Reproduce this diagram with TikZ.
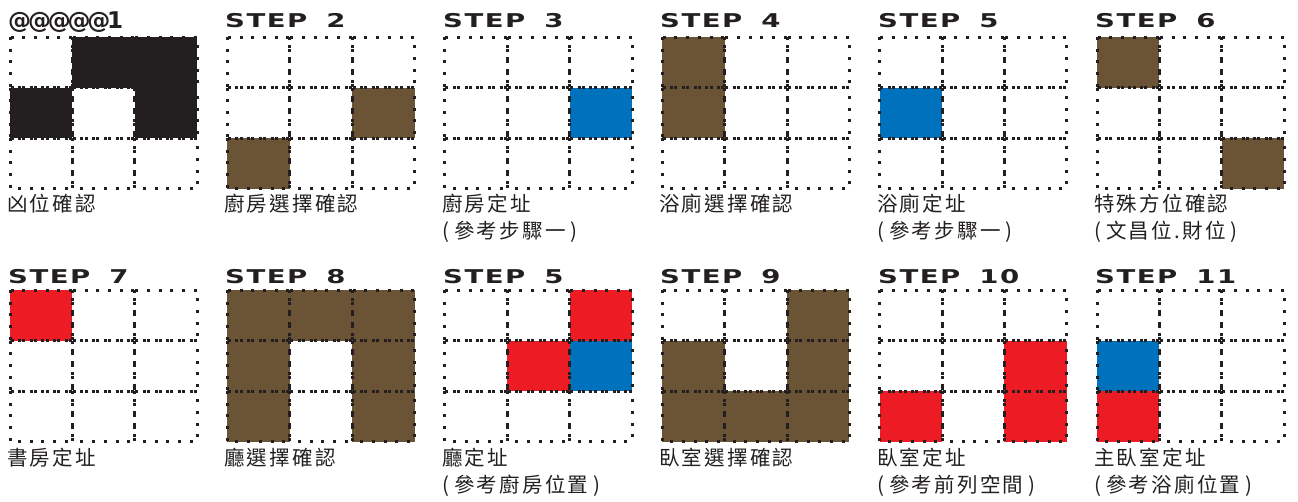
\documentclass[tikz,border=0pt]{standalone}
\usepackage{fontspec}
\usetikzlibrary{positioning}
\newfontfamily\stepfont{DejaVu Sans}[FakeStretch=1.45, LetterSpace=8]
\newfontfamily\atfont{DejaVu Sans}[LetterSpace=-14]
\newfontfamily\cjkfont{Noto Sans CJK TC}[LetterSpace=11]
\definecolor{inkDark}{HTML}{231F20}
\definecolor{roomBrown}{HTML}{6B5436}
\definecolor{roomBlue}{HTML}{0071BC}
\definecolor{roomRed}{HTML}{ED1C24}

% 3x3 plan of dotted cells, #1/#2 = top left corner
\newcommand{\plangrid}[2]{%
  \foreach \cx in {0,1,2}
    \foreach \cy in {0,1,2}
      \draw[cellline] ({#1+62.4*\cx},{#2+50.5*\cy}) rectangle +(62.4,50.5);}
% filled cell: corner, column, row, style
\newcommand{\plancell}[5]{%
  \fill[#5] ({#1+62.4*#3},{#2+50.5*#4}) rectangle +(62.4,50.5);}
% bracketed second caption line
\newcommand{\refnote}[1]{(\hspace{5pt}#1\hspace{5pt})}

\begin{document}
\begin{tikzpicture}[
  x=1pt, y=-1pt,
  cellline/.style={draw=inkDark, line width=3pt, dash pattern=on 3pt off 8.7pt},
  blackcell/.style={fill=inkDark},
  browncell/.style={fill=roomBrown},
  bluecell/.style={fill=roomBlue},
  redcell/.style={fill=roomRed},
  steptitle/.style={anchor=base west, inner sep=0pt, text=inkDark,
                    font=\stepfont\bfseries\fontsize{19}{19}\selectfont},
  caption/.style={anchor=base west, inner sep=0pt, text=inkDark,
                  font=\cjkfont\fontsize{20.5}{27}\selectfont}
]
\useasboundingbox (0,0) rectangle (1298,501);

% row 1 fills
\foreach \cx/\cy in {1/0,2/0,0/1,2/1} \plancell{10}{37}{\cx}{\cy}{blackcell};
\foreach \cx/\cy in {2/1,0/2} \plancell{227.4}{37}{\cx}{\cy}{browncell};
\plancell{444.8}{37}{2}{1}{bluecell};
\foreach \cx/\cy in {0/0,0/1} \plancell{662.2}{37}{\cx}{\cy}{browncell};
\plancell{879.6}{37}{0}{1}{bluecell};
\foreach \cx/\cy in {0/0,2/2} \plancell{1097}{37}{\cx}{\cy}{browncell};

% row 2 fills
\plancell{10}{290}{0}{0}{redcell};
\foreach \cx/\cy in {0/0,1/0,2/0,0/1,2/1,0/2,2/2} \plancell{227.4}{290}{\cx}{\cy}{browncell};
\foreach \cx/\cy in {2/0,1/1} \plancell{444.8}{290}{\cx}{\cy}{redcell};
\plancell{444.8}{290}{2}{1}{bluecell};
\foreach \cx/\cy in {2/0,0/1,2/1,0/2,1/2,2/2} \plancell{662.2}{290}{\cx}{\cy}{browncell};
\foreach \cx/\cy in {2/1,2/2,0/2} \plancell{879.6}{290}{\cx}{\cy}{redcell};
\plancell{1097}{290}{0}{1}{bluecell};
\plancell{1097}{290}{0}{2}{redcell};

% dotted grids
\foreach \px in {10,227.4,444.8,662.2,879.6,1097}
  \foreach \py in {37,290}
    \plangrid{\px}{\py};

% headings
\node[steptitle, font=\atfont\bfseries\fontsize{23}{23}\selectfont] (head1) at (8,28) {@@@@@1};
\node[steptitle] (head2) at (225,27) {STEP\hspace{19pt}2};
\node[steptitle] (head3) at (443,27) {STEP\hspace{19pt}3};
\node[steptitle] (head4) at (660,27) {STEP\hspace{19pt}4};
\node[steptitle] (head5) at (878,27) {STEP\hspace{19pt}5};
\node[steptitle] (head6) at (1095,27) {STEP\hspace{19pt}6};
\node[steptitle] (head7) at (8,283) {STEP\hspace{19pt}7};
\node[steptitle] (head8) at (225,283) {STEP\hspace{19pt}8};
\node[steptitle] (head9) at (443,283) {STEP\hspace{19pt}5};
\node[steptitle] (head10) at (660,283) {STEP\hspace{19pt}9};
\node[steptitle] (head11) at (878,283) {STEP\hspace{19pt}10};
\node[steptitle] (head12) at (1095,283) {STEP\hspace{19pt}11};

% captions
\node[caption] (cap1) at (7,211) {凶位確認};
\node[caption] (cap2) at (224,211) {廚房選擇確認};
\node[caption] (cap3) at (442,211) {廚房定址};
\node[caption] (cap3b) at (442,238) {\refnote{參考步驟一}};
\node[caption] (cap4) at (659,211) {浴廁選擇確認};
\node[caption] (cap5) at (877,211) {浴廁定址};
\node[caption] (cap5b) at (877,238) {\refnote{參考步驟一}};
\node[caption] (cap6) at (1094,211) {特殊方位確認};
\node[caption] (cap6b) at (1094,238) {\refnote{文昌位.財位}};
\node[caption] (cap7) at (7,465) {書房定址};
\node[caption] (cap8) at (224,465) {廳選擇確認};
\node[caption] (cap9) at (442,465) {廳定址};
\node[caption] (cap9b) at (442,492) {\refnote{參考廚房位置}};
\node[caption] (cap10) at (659,465) {臥室選擇確認};
\node[caption] (cap11) at (877,465) {臥室定址};
\node[caption] (cap11b) at (877,492) {\refnote{參考前列空間}};
\node[caption] (cap12) at (1094,465) {主臥室定址};
\node[caption] (cap12b) at (1094,492) {\refnote{參考浴廁位置}};

\end{tikzpicture}
\end{document}
